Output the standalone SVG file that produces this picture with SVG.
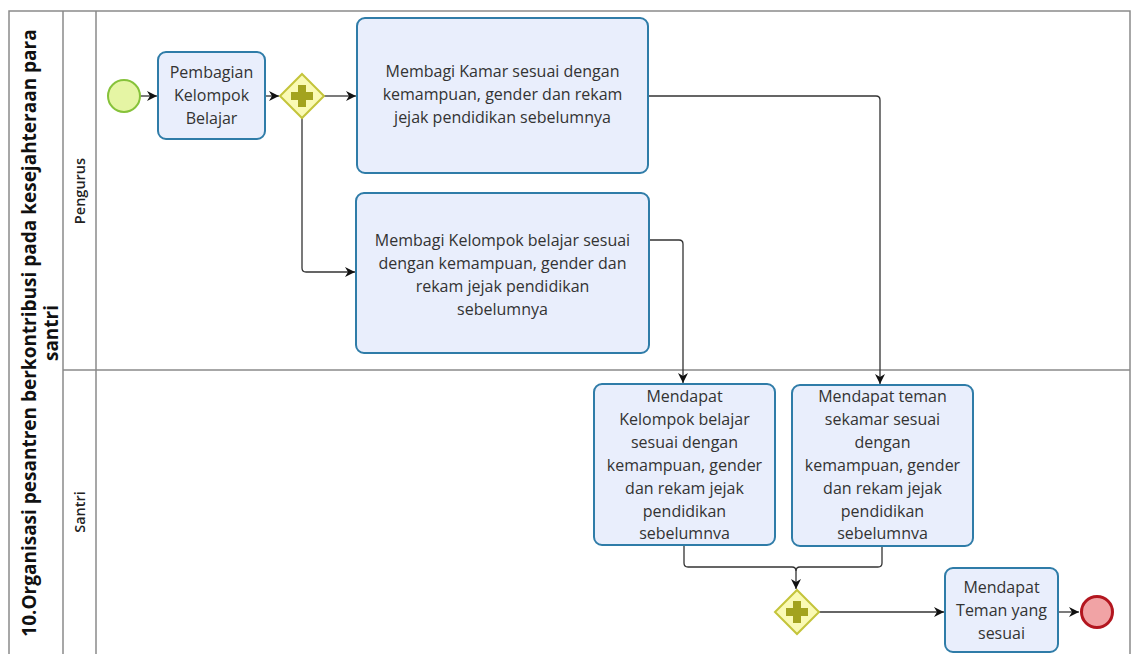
<svg xmlns="http://www.w3.org/2000/svg" width="1138" height="654" viewBox="0 0 1138 654">
<style>
.frame{fill:none;stroke:#8a8a8a;stroke-width:1.5}
.task{fill:#e9eefc;stroke:#2f7ca8;stroke-width:2}
.t{font-family:"Open Sans","Noto Sans",sans-serif;font-size:16px;fill:#333;text-anchor:middle}
.lane{font-family:"Open Sans","Noto Sans",sans-serif;font-size:14.5px;fill:#222;text-anchor:middle;font-weight:600}
.pool{font-family:"Open Sans","Noto Sans",sans-serif;font-size:19px;fill:#111;text-anchor:middle;font-weight:700}
.gw{fill:#fafab4;stroke:#c4c43a;stroke-width:2}
.plus{fill:#a3a31e}
.c{fill:none;stroke:#333;stroke-width:1.3}
</style>
<defs>
<marker id="ah" viewBox="0 0 10 10" refX="10" refY="5" markerWidth="10" markerHeight="10" markerUnits="userSpaceOnUse" orient="auto">
<path d="M0,0 L10,5 L0,10 L3,5 Z" fill="#111"/>
</marker>
</defs>
<rect width="1138" height="654" fill="#fff"/>
<g id="pool">
<path class="frame" d="M9,660 V11 H1130 V660"/>
<line class="frame" x1="63" y1="11" x2="63" y2="660"/>
<line class="frame" x1="96" y1="11" x2="96" y2="660"/>
<line class="frame" x1="63" y1="370" x2="1130" y2="370"/>
<text class="pool" transform="translate(36,333) rotate(-90)">10.Organisasi pesantren berkontribusi pada kesejahteraan para</text>
<text class="pool" transform="translate(58,333) rotate(-90)">santri</text>
<text class="lane" transform="translate(85,191) rotate(-90)">Pengurus</text>
<text class="lane" transform="translate(85,512) rotate(-90)">Santri</text>
</g>
<g id="connectors">
<path class="c" d="M140,96 H157" marker-end="url(#ah)"/>
<path class="c" d="M265,96 H279" marker-end="url(#ah)"/>
<path class="c" d="M324,96 H356" marker-end="url(#ah)"/>
<path class="c" d="M302,118 V268 Q302,272 306,272 H355" marker-end="url(#ah)"/>
<path class="c" d="M649,96 H876 Q880,96 880,100 V384" marker-end="url(#ah)"/>
<path class="c" d="M649,240 H679 Q683,240 683,244 V383" marker-end="url(#ah)"/>
<path class="c" d="M684,546 V563 Q684,567 688,567 H792 Q796,567 796,571 V589" marker-end="url(#ah)"/>
<path class="c" d="M882,547 V563 Q882,567 878,567 H800 Q796,567 796,571"/>
<path class="c" d="M819,612 H944" marker-end="url(#ah)"/>
<path class="c" d="M1058,612 H1079" marker-end="url(#ah)"/>
</g>
<g id="start">
<circle cx="124" cy="96" r="16" fill="#e5f5a4" stroke="#86c23a" stroke-width="2"/>
</g>
<g id="task-pembagian">
<rect class="task" x="158" y="52" width="107" height="87" rx="8"/>
<text class="t" x="211.5" y="78">Pembagian</text>
<text class="t" x="211.5" y="101">Kelompok</text>
<text class="t" x="211.5" y="124">Belajar</text>
</g>
<g id="gateway-split">
<path class="gw" d="M302,74 L324,96 L302,118 L280,96 Z"/>
<path class="plus" d="M298,85 H306 V92 H313 V100 H306 V107 H298 V100 H291 V92 H298 Z"/>
</g>
<g id="task-kamar">
<rect class="task" x="357" y="18" width="291" height="155" rx="8"/>
<text class="t" x="502.5" y="77">Membagi Kamar sesuai dengan</text>
<text class="t" x="502.5" y="100">kemampuan, gender dan rekam</text>
<text class="t" x="502.5" y="123">jejak pendidikan sebelumnya</text>
</g>
<g id="task-kelompok">
<rect class="task" x="356" y="193" width="293" height="160" rx="8"/>
<text class="t" x="502.5" y="246">Membagi Kelompok belajar sesuai</text>
<text class="t" x="502.5" y="269">dengan kemampuan, gender dan</text>
<text class="t" x="502.5" y="292">rekam jejak pendidikan</text>
<text class="t" x="502.5" y="315">sebelumnya</text>
</g>
<g id="task-mendapat-kelompok">
<rect class="task" x="594" y="384" width="181" height="161" rx="8"/>
<text class="t" x="684.5" y="402">Mendapat</text>
<text class="t" x="684.5" y="425">Kelompok belajar</text>
<text class="t" x="684.5" y="448">sesuai dengan</text>
<text class="t" x="684.5" y="471">kemampuan, gender</text>
<text class="t" x="684.5" y="494">dan rekam jejak</text>
<text class="t" x="684.5" y="517">pendidikan</text>
<text class="t" x="684.5" y="539">sebelumnva</text>
</g>
<g id="task-mendapat-teman">
<rect class="task" x="792" y="385" width="181" height="161" rx="8"/>
<text class="t" x="882.5" y="402">Mendapat teman</text>
<text class="t" x="882.5" y="425">sekamar sesuai</text>
<text class="t" x="882.5" y="448">dengan</text>
<text class="t" x="882.5" y="471">kemampuan, gender</text>
<text class="t" x="882.5" y="494">dan rekam jejak</text>
<text class="t" x="882.5" y="517">pendidikan</text>
<text class="t" x="882.5" y="539">sebelumnva</text>
</g>
<g id="gateway-join">
<path class="gw" d="M797,590 L819,612 L797,634 L775,612 Z"/>
<path class="plus" d="M793,601 H801 V608 H808 V616 H801 V623 H793 V616 H786 V608 H793 Z"/>
</g>
<g id="task-teman-sesuai">
<rect class="task" x="945" y="568" width="113" height="84" rx="8"/>
<text class="t" x="1001.5" y="593">Mendapat</text>
<text class="t" x="1001.5" y="616">Teman yang</text>
<text class="t" x="1001.5" y="639">sesuai</text>
</g>
<g id="end">
<circle cx="1097" cy="612" r="15.5" fill="#f1a3a5" stroke="#b3161f" stroke-width="3"/>
</g>
</svg>
